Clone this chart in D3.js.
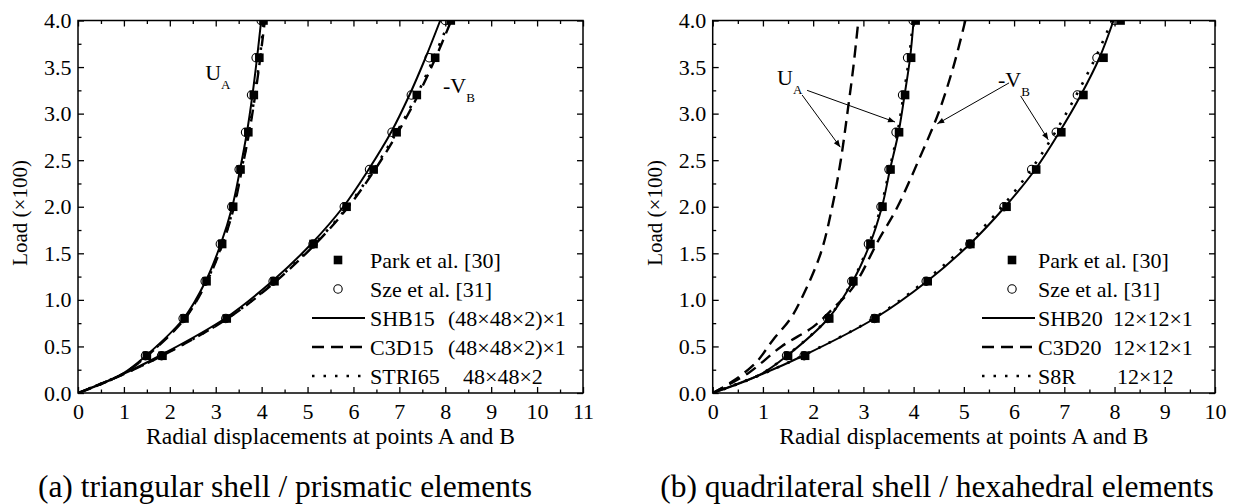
<!DOCTYPE html>
<html><head><meta charset="utf-8">
<script src="https://cdn.jsdelivr.net/npm/d3@7"></script>
<style>body{margin:0;background:#fff}svg{display:block}text{font-family:"Liberation Serif","Times New Roman",serif;fill:#000}</style>
</head><body>
<svg id="c" width="1236" height="504"></svg>
<script>
// ---------- data ----------
const markLoads = [0.4,0.8,1.2,1.6,2.0,2.4,2.8,3.2,3.6,4.0];
const parkUA = [1.50,2.32,2.80,3.14,3.38,3.54,3.71,3.83,3.95,4.04];
const parkVB = [1.84,3.24,4.28,5.13,5.85,6.44,6.94,7.38,7.78,8.12];
const szeUA  = [1.47,2.29,2.77,3.10,3.35,3.51,3.65,3.78,3.88,3.99];
const szeVB  = [1.82,3.22,4.25,5.12,5.80,6.35,6.84,7.26,7.65,8.00];

const curveLoads = [0,0.2,0.4,0.8,1.2,1.6,2.0,2.4,2.8,3.2,3.6,4.0];
// panel (a)
const shb15UA  = [0,0.95,1.48,2.30,2.78,3.11,3.36,3.53,3.68,3.80,3.90,3.99];
const shb15VB  = [0,0.97,1.78,3.20,4.23,5.08,5.78,6.33,6.82,7.22,7.57,7.89];
const c3d15UA  = [0,0.96,1.51,2.33,2.81,3.15,3.40,3.57,3.73,3.86,3.97,4.07];
const c3d15VB  = [0,0.98,1.83,3.26,4.31,5.17,5.89,6.47,6.97,7.41,7.79,8.13];
const stri65UA = [0,0.96,1.50,2.32,2.80,3.14,3.39,3.56,3.72,3.85,3.96,4.05];
const stri65VB = [0,0.98,1.82,3.25,4.29,5.15,5.87,6.44,6.94,7.38,7.75,8.09];
// panel (b)
const shb20UA  = [0,0.95,1.48,2.30,2.79,3.13,3.37,3.53,3.70,3.82,3.93,4.00];
const shb20VB  = [0,0.97,1.80,3.22,4.27,5.12,5.82,6.42,6.90,7.33,7.70,7.98];
const s8rUA    = [0,0.95,1.47,2.29,2.78,3.11,3.35,3.52,3.68,3.80,3.91,3.99];
const s8rVB    = [0,0.97,1.79,3.20,4.22,5.06,5.76,6.34,6.82,7.24,7.62,7.95];
const c3d20UALoads = [0,0.12,0.32,0.57,0.80,1.05,1.5,2.0,2.5,3.0,3.5,4.0];
const c3d20UA      = [0,0.38,0.85,1.20,1.55,1.80,2.15,2.38,2.55,2.68,2.80,2.90];
const c3d20VBLoads = [0,0.21,0.50,0.71,0.91,1.14,1.64,2.0,2.5,3.0,3.5,4.0];
const c3d20VB      = [0,0.70,1.37,2.00,2.40,2.80,3.30,3.68,4.10,4.49,4.79,5.03];

const xTicksA = [0,1,2,3,4,5,6,7,8,9,10,11];
const xTicksB = [0,1,2,3,4,5,6,7,8,9,10];
const yTicks  = [0,0.5,1.0,1.5,2.0,2.5,3.0,3.5,4.0];

const legendA = ["Park et al. [30]","Sze et al. [31]","SHB15","C3D15","STRI65"];
const legendA2 = ["","","(48×48×2)×1","(48×48×2)×1","48×48×2"];
const legendB = ["Park et al. [30]","Sze et al. [31]","SHB20","C3D20","S8R"];
const legendB2 = ["","","12×12×1","12×12×1","12×12"];
const xTitle = "Radial displacements at points A and B";
const yTitle = "Load (×100)";
const captions = ["(a) triangular shell / prismatic elements","(b) quadrilateral shell / hexahedral elements"];

// ---------- drawing ----------
const svg = d3.select("#c");
svg.append("defs").append("marker").attr("id","ah").attr("viewBox","0 0 10 10")
  .attr("refX",10).attr("refY",5).attr("markerWidth",9).attr("markerHeight",7)
  .attr("markerUnits","userSpaceOnUse").attr("orient","auto")
  .append("path").attr("d","M0,1 L10,5 L0,9 Z").attr("fill","#000");

const DASH = "12,7", DOT = "2.5,9";

function panel(cfg){
  const g = svg.append("g");
  const x = d3.scaleLinear().domain([0,cfg.xmax]).range([cfg.x0,cfg.x1]);
  const y = d3.scaleLinear().domain([0,4]).range([393,20.5]);
  const clipId = "clip"+cfg.id;
  svg.select("defs").append("clipPath").attr("id",clipId).append("rect")
    .attr("x",cfg.x0).attr("y",20.5).attr("width",cfg.x1-cfg.x0).attr("height",393-20.5);

  const minorX = d3.range(0.5,cfg.xmax,1);
  const minorY = d3.range(0.25,4,0.5);
  function ax(gen, tr, ticks, size, fmt, pad){
    const a = gen.tickValues(ticks).tickSizeInner(size).tickSizeOuter(0).tickPadding(pad||0);
    if(fmt===null) a.tickFormat(""); else if(fmt) a.tickFormat(fmt);
    const s = g.append("g").attr("transform",tr).call(a);
    s.select(".domain").remove();
    s.selectAll("line").attr("stroke","#000").attr("stroke-width",1.3);
    s.selectAll("text").attr("font-size",22).attr("font-family","Liberation Serif");
    return s;
  }
  const fmtY = d3.format(".1f");
  ax(d3.axisBottom(x),`translate(0,393)`,cfg.xticks,-6,d3.format("d"),10);
  ax(d3.axisBottom(x),`translate(0,393)`,minorX,-3.5,null);
  ax(d3.axisTop(x),`translate(0,20.5)`,cfg.xticks,-6,null);
  ax(d3.axisTop(x),`translate(0,20.5)`,minorX,-3.5,null);
  ax(d3.axisLeft(y),`translate(${cfg.x0},0)`,yTicks,-6,fmtY,6.5);
  ax(d3.axisLeft(y),`translate(${cfg.x0},0)`,minorY,-3.5,null);
  ax(d3.axisRight(y),`translate(${cfg.x1},0)`,yTicks,-6,null);
  ax(d3.axisRight(y),`translate(${cfg.x1},0)`,minorY,-3.5,null);
  g.append("rect").attr("x",cfg.x0).attr("y",20.5).attr("width",cfg.x1-cfg.x0).attr("height",393-20.5)
    .attr("fill","none").attr("stroke","#000").attr("stroke-width",1.5);

  const line = d3.line().x(d=>x(d[0])).y(d=>y(d[1])).curve(d3.curveCatmullRom.alpha(0.5));
  const cg = g.append("g").attr("clip-path",`url(#${clipId})`);
  cfg.curves.forEach(c=>{
    const pts = c.xs.map((v,i)=>[v,c.loads[i]]);
    cg.append("path").attr("d",line(pts)).attr("fill","none").attr("stroke","#000")
      .attr("stroke-width",c.w).attr("stroke-dasharray",c.dash||null);
  });
  [szeUA,szeVB].forEach(arr=>{
    cg.selectAll(null).data(arr.map((v,i)=>[v,markLoads[i]])).join("circle")
      .attr("cx",d=>x(d[0])).attr("cy",d=>y(d[1])).attr("r",4.2)
      .attr("fill","none").attr("stroke","#000").attr("stroke-width",1.1);
  });
  [parkUA,parkVB].forEach(arr=>{
    cg.selectAll(null).data(arr.map((v,i)=>[v,markLoads[i]])).join("rect")
      .attr("x",d=>x(d[0])-4.3).attr("y",d=>y(d[1])-4.3).attr("width",8.6).attr("height",8.6)
      .attr("fill","#000");
  });

  g.append("text").attr("x",(cfg.x0+cfg.x1)/2).attr("y",444).attr("text-anchor","middle")
    .attr("font-size",22.5).attr("textLength",369).attr("lengthAdjust","spacingAndGlyphs").text(xTitle);
  g.append("text").attr("transform",`translate(${cfg.x0-51},${213}) rotate(-90)`)
    .attr("text-anchor","middle").attr("font-size",21).text(yTitle);
  g.append("text").attr("x",cfg.capX).attr("y",497).attr("text-anchor","middle")
    .attr("font-size",31.5).text(cfg.caption);

  const ly = [260,289,318,347,376];
  const L = cfg.leg;
  g.append("rect").attr("x",L.sym-4.3).attr("y",ly[0]-4.3).attr("width",8.6).attr("height",8.6).attr("fill","#000");
  g.append("circle").attr("cx",L.sym).attr("cy",ly[1]).attr("r",4.2).attr("fill","none").attr("stroke","#000").attr("stroke-width",1.1);
  g.append("line").attr("x1",L.l0).attr("x2",L.l1).attr("y1",ly[2]).attr("y2",ly[2]).attr("stroke","#000").attr("stroke-width",2);
  g.append("line").attr("x1",L.l0).attr("x2",L.l1).attr("y1",ly[3]).attr("y2",ly[3]).attr("stroke","#000").attr("stroke-width",2.6).attr("stroke-dasharray",DASH);
  g.append("line").attr("x1",L.l0).attr("x2",L.l1).attr("y1",ly[4]).attr("y2",ly[4]).attr("stroke","#000").attr("stroke-width",2.6).attr("stroke-dasharray",DOT);
  cfg.legText.forEach((t,i)=>{
    g.append("text").attr("x",L.tx).attr("y",ly[i]+7.5).attr("font-size",22).text(t);
    if(cfg.legText2[i]) g.append("text").attr("x",L.tx2[i]).attr("y",ly[i]+7.5).attr("font-size",22).text(cfg.legText2[i]);
  });

  cfg.labels.forEach(l=>{
    const t = g.append("text").attr("x",x(l.x)).attr("y",y(l.y)).attr("font-size",22);
    t.append("tspan").text(l.main);
    t.append("tspan").attr("font-size",13).attr("dy",9).text(l.sub);
  });
  (cfg.arrows||[]).forEach(a=>{
    g.append("line").attr("x1",x(a[0])).attr("y1",y(a[1])).attr("x2",x(a[2])).attr("y2",y(a[3]))
      .attr("stroke","#000").attr("stroke-width",1).attr("marker-end","url(#ah)");
  });
}

panel({id:"a",x0:78,x1:583,xmax:11,xticks:xTicksA,capX:285,caption:captions[0],
  curves:[
    {xs:shb15UA,loads:curveLoads,w:2},{xs:shb15VB,loads:curveLoads,w:2},
    {xs:c3d15UA,loads:curveLoads,w:2.4,dash:DASH},{xs:c3d15VB,loads:curveLoads,w:2.4,dash:DASH},
    {xs:stri65UA,loads:curveLoads,w:2.6,dash:DOT},{xs:stri65VB,loads:curveLoads,w:2.6,dash:DOT}],
  leg:{sym:338,l0:312,l1:365,tx:370,tx2:[0,0,448,448,463]},legText:legendA,legText2:legendA2,
  labels:[{x:2.77,y:3.36,main:"U",sub:"A"},{x:7.95,y:3.22,main:"-V",sub:"B"}]
});
panel({id:"b",x0:712.7,x1:1215,xmax:10,xticks:xTicksB,capX:937,caption:captions[1],
  curves:[
    {xs:shb20UA,loads:curveLoads,w:2},{xs:shb20VB,loads:curveLoads,w:2},
    {xs:c3d20UA,loads:c3d20UALoads,w:2.4,dash:DASH},{xs:c3d20VB,loads:c3d20VBLoads,w:2.4,dash:DASH},
    {xs:s8rUA,loads:curveLoads,w:2.6,dash:DOT},{xs:s8rVB,loads:curveLoads,w:2.6,dash:DOT}],
  leg:{sym:1012,l0:982,l1:1035,tx:1038,tx2:[0,0,1113,1113,1117]},legText:legendB,legText2:legendB2,
  labels:[{x:1.28,y:3.31,main:"U",sub:"A"},{x:5.68,y:3.29,main:"-V",sub:"B"}],
  arrows:[[1.78,3.2,2.54,2.64],[1.88,3.25,3.63,2.91],[5.9,3.33,4.47,2.89],[6.13,3.19,6.68,2.72]]
});
</script></body></html>
